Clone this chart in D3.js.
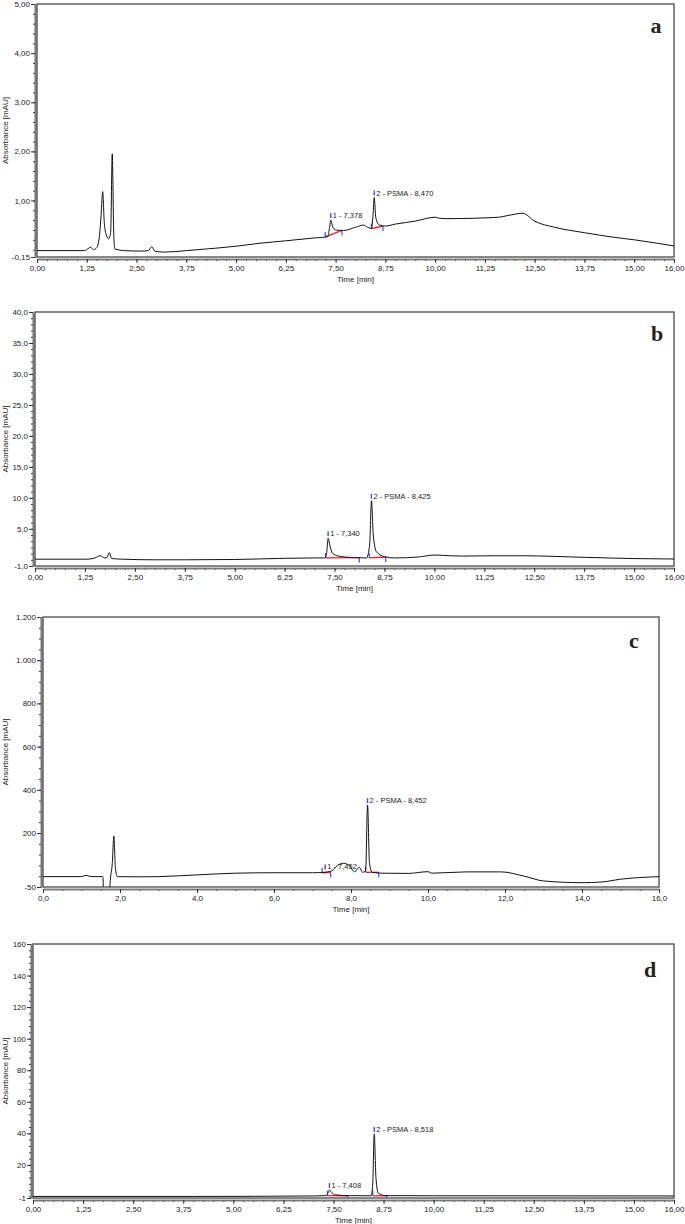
<!DOCTYPE html>
<html>
<head>
<meta charset="utf-8">
<script src="https://cdn.jsdelivr.net/npm/d3@7"></script>
<style>
  body { margin: 0; background: #fff; }
  svg { display: block; }
  text { font-family: "Liberation Sans", Arial, sans-serif; fill: #222; }
</style>
</head>
<body>
<div id="chart"></div>
<script>
// Chromatogram traces (time in min, absorbance in mAU)
let timeA = [0, 1.2, 1.3, 1.35, 1.42, 1.5, 1.56, 1.61, 1.65, 1.69, 1.74, 1.8, 1.85, 1.89, 1.93, 1.96, 2.2, 2.6, 2.8, 2.88, 2.96, 3.2, 3.75, 4.5, 5.0, 5.6, 6.25, 7.0, 7.3, 7.34, 7.378, 7.42, 7.5, 7.7, 8.0, 8.2, 8.3, 8.4, 8.44, 8.47, 8.51, 8.6, 8.75, 9.0, 9.5, 10.0, 10.1, 10.3, 11.0, 11.6, 11.8, 12.2, 12.5, 13.0, 13.75, 14.5, 15.0, 16.0];
let absA = [-0.02, -0.02, 0.03, 0.05, 0.0, 0.04, 0.22, 0.7, 1.18, 0.55, 0.3, 0.22, 0.35, 1.95, 0.25, 0.01, -0.02, -0.03, -0.02, 0.06, -0.03, -0.05, -0.02, 0.03, 0.07, 0.13, 0.18, 0.24, 0.26, 0.4, 0.6, 0.48, 0.4, 0.39, 0.455, 0.5, 0.455, 0.43, 0.7, 1.06, 0.65, 0.5, 0.48, 0.52, 0.58, 0.66, 0.64, 0.63, 0.64, 0.66, 0.69, 0.74, 0.58, 0.455, 0.345, 0.25, 0.2, 0.075];

let timeB = [0, 1.3, 1.5, 1.63, 1.75, 1.8, 1.86, 1.92, 2.2, 3.0, 3.75, 5.0, 6.25, 7.0, 7.25, 7.3, 7.34, 7.38, 7.45, 7.6, 8.0, 8.3, 8.38, 8.425, 8.47, 8.55, 8.75, 9.0, 9.6, 10.0, 10.4, 10.7, 11.5, 12.2, 13.75, 15.0, 16.0];
let absB = [0.1, 0.1, 0.3, 0.66, 0.3, 0.35, 1.15, 0.2, 0.1, 0.0, 0.0, 0.05, 0.24, 0.3, 0.3, 1.0, 3.47, 2.4, 1.05, 0.6, 0.35, 0.3, 2.5, 9.53, 4.0, 1.3, 0.5, 0.3, 0.45, 0.77, 0.65, 0.6, 0.65, 0.65, 0.4, 0.2, 0.13];

let timeC = [0, 1.0, 1.12, 1.25, 1.55, 1.56, 1.575, 1.72, 1.74, 1.8, 1.84, 1.88, 1.93, 2.5, 3.0, 4.0, 5.0, 6.0, 7.0, 7.3, 7.5, 7.65, 7.8, 7.95, 8.1, 8.15, 8.22, 8.3, 8.38, 8.43, 8.48, 8.55, 8.8, 9.5, 10.0, 10.1, 11.0, 11.9, 12.5, 13.0, 14.0, 14.5, 15.0, 16.0];
let absC = [-2, -2, 4, -2, -2, -10, -120, -120, -40, 60, 186, 40, -2, -3, -2, 6, 14, 16, 16, 18, 25, 50, 60, 50, 20, 30, 41, 18, 25, 329, 60, 18, 14, 13, 21, 14, 20, 20, 0, -22, -30, -27, -14, -2];

let timeD = [0, 4.0, 7.0, 7.33, 7.37, 7.4, 7.45, 7.55, 7.9, 8.44, 8.48, 8.518, 8.56, 8.62, 8.8, 10.0, 16.0];
let absD = [0, 0, 0.3, 0.5, 2.5, 4.1, 2.5, 1.0, 0.5, 0.4, 8, 39.6, 12, 2, 0.5, 0.4, 0.3];

// Integrated peaks: label, apex, integration start / end
let peaksA = [
  { label: "1 - 7,378", apex: [7.378, 0.6], start: [7.24, 0.26], end: [7.66, 0.39] },
  { label: "2 - PSMA - 8,470", apex: [8.47, 1.06], start: [8.4, 0.43], end: [8.69, 0.48] }
];
let peaksB = [
  { label: "1 - 7,340", apex: [7.34, 3.47], start: [7.28, 0.3], end: [8.12, 0.35] },
  { label: "2 - PSMA - 8,425", apex: [8.425, 9.53], start: [8.37, 0.3], end: [8.78, 0.45] }
];
let peaksC = [
  { label: "1 - 7,452", apex: [7.33, 22], start: [7.25, 16], end: [7.47, 18] },
  { label: "2 - PSMA - 8,452", apex: [8.43, 329], start: [8.38, 18], end: [8.72, 18] }
];
let peaksD = [
  { label: "1 - 7,408", apex: [7.4, 4.1], start: [7.35, 0.5], end: [7.86, 0.4] },
  { label: "2 - PSMA - 8,518", apex: [8.518, 39.6], start: [8.48, 0.4], end: [8.83, 0.4] }
];

// Tick values
let xTicksQ = [0, 1.25, 2.5, 3.75, 5, 6.25, 7.5, 8.75, 10, 11.25, 12.5, 13.75, 15, 16];
let xTicksC = [0, 2, 4, 6, 8, 10, 12, 14, 16];
let yTicksA = [-0.15, 1, 2, 3, 4, 5];
let yTicksB = [-1, 5, 10, 15, 20, 25, 30, 35, 40];
let yTicksC = [-50, 200, 400, 600, 800, 1000, 1200];
let yTicksD = [-1, 20, 40, 60, 80, 100, 120, 140, 160];

// German style numbers: comma decimal, dot thousands
let loc = d3.formatLocale({ decimal: ",", thousands: ".", grouping: [3], currency: ["", ""], minus: "-" });

let panels = [
  { letter: "a", time: timeA, abs: absA, peaks: peaksA, yDomain: [-0.15, 5], yTicks: yTicksA, yMinor: 0.2,
    xTicks: xTicksQ, xMinor: 0.25, xFmt: loc.format(".2f"), yFmt: loc.format(".2f"),
    box: { l: 37, r: 674, t: 4, b: 257 }, letterPos: [656, 33] },
  { letter: "b", time: timeB, abs: absB, peaks: peaksB, yDomain: [-1, 40], yTicks: yTicksB, yMinor: 1,
    xTicks: xTicksQ, xMinor: 0.25, xFmt: loc.format(".2f"), yFmt: loc.format(".1f"),
    box: { l: 35, r: 674, t: 312, b: 566 }, letterPos: [657, 341] },
  { letter: "c", time: timeC, abs: absC, peaks: peaksC, yDomain: [-50, 1200], yTicks: yTicksC, yMinor: 50,
    xTicks: xTicksC, xMinor: 0.5, xFmt: loc.format(".1f"), yFmt: loc.format(",d"),
    box: { l: 43, r: 659, t: 617, b: 887 }, letterPos: [634, 648] },
  { letter: "d", time: timeD, abs: absD, peaks: peaksD, yDomain: [-1, 160], yTicks: yTicksD, yMinor: 4,
    xTicks: xTicksQ, xMinor: 0.25, xFmt: loc.format(".2f"), yFmt: loc.format("d"),
    box: { l: 33, r: 674, t: 944, b: 1198 }, letterPos: [650, 977] }
];

let svg = d3.select("#chart").append("svg")
  .attr("width", 685)
  .attr("height", 1224);

let styleAxis = (g) => {
  g.select(".domain").attr("stroke", "#777").attr("stroke-width", 1.6);
  g.selectAll(".tick line").attr("stroke", "#333");
  g.selectAll(".tick text").attr("font-size", 8).attr("fill", "#222")
    .attr("font-family", "'Liberation Sans', Arial, sans-serif");
};

let drawPanel = (p, i) => {
  let b = p.box;
  let x = d3.scaleLinear().domain([0, 16]).range([b.l, b.r]);
  let y = d3.scaleLinear().domain(p.yDomain).range([b.b, b.t]);
  let g = svg.append("g");

  g.append("clipPath").attr("id", "clip" + i)
    .append("rect")
    .attr("x", b.l).attr("y", b.t)
    .attr("width", b.r - b.l).attr("height", b.b - b.t);

  // minor ticks
  let xMinor = d3.range(0, 16.0001, p.xMinor);
  let yMinor = d3.range(Math.max(0, p.yDomain[0]), p.yDomain[1] + 1e-6, p.yMinor);

  g.append("g")
    .attr("transform", `translate(0,${b.b + 2})`)
    .call(d3.axisBottom(x).tickValues(xMinor).tickSize(2).tickSizeOuter(0).tickFormat(""))
    .call(styleAxis);
  g.append("g")
    .attr("transform", `translate(0,${b.b + 2})`)
    .call(d3.axisBottom(x).tickValues(p.xTicks).tickSize(4).tickSizeOuter(0).tickPadding(2).tickFormat(p.xFmt))
    .call(styleAxis);

  g.append("g")
    .attr("transform", `translate(${b.l - 2},0)`)
    .call(d3.axisLeft(y).tickValues(yMinor).tickSize(2).tickSizeOuter(0).tickFormat(""))
    .call(styleAxis);
  g.append("g")
    .attr("transform", `translate(${b.l - 2},0)`)
    .call(d3.axisLeft(y).tickValues(p.yTicks).tickSize(4).tickSizeOuter(0).tickPadding(1).tickFormat(p.yFmt))
    .call(styleAxis);

  // frame
  g.append("rect")
    .attr("x", b.l).attr("y", b.t)
    .attr("width", b.r - b.l).attr("height", b.b - b.t)
    .attr("fill", "none")
    .attr("stroke", "#555")
    .attr("stroke-width", 1.4);

  // trace
  let pts = p.time.map((t, k) => [t, p.abs[k]]);
  let line = d3.line()
    .x((d) => x(d[0]))
    .y((d) => y(d[1]))
    .curve(d3.curveMonotoneX);

  // integration baselines and markers
  let pk = g.append("g").attr("clip-path", `url(#clip${i})`);
  p.peaks.forEach((d) => {
    pk.append("line")
      .attr("x1", x(d.start[0])).attr("y1", y(d.start[1]))
      .attr("x2", x(d.end[0])).attr("y2", y(d.end[1]))
      .attr("stroke", "#e8202a").attr("stroke-width", 1.3);
    pk.append("line")
      .attr("x1", x(d.start[0])).attr("x2", x(d.start[0]))
      .attr("y1", y(d.start[1]) - 5).attr("y2", y(d.start[1]))
      .attr("stroke", "#3a4cff").attr("stroke-width", 1.2);
    pk.append("line")
      .attr("x1", x(d.end[0])).attr("x2", x(d.end[0]))
      .attr("y1", y(d.end[1])).attr("y2", y(d.end[1]) + 5)
      .attr("stroke", "#3a4cff").attr("stroke-width", 1.2);
    pk.append("line")
      .attr("x1", x(d.apex[0])).attr("x2", x(d.apex[0]))
      .attr("y1", y(d.apex[1]) - 7).attr("y2", y(d.apex[1]) - 2)
      .attr("stroke", "#3a4cff").attr("stroke-width", 1.4);
    pk.append("text")
      .attr("x", x(d.apex[0]) + 2)
      .attr("y", y(d.apex[1]) - 2)
      .attr("font-size", 7.5)
      .text(d.label);
  });

  g.append("path")
    .datum(pts)
    .attr("clip-path", `url(#clip${i})`)
    .attr("fill", "none")
    .attr("stroke", "#111")
    .attr("stroke-width", 1)
    .attr("d", line);

  // titles
  g.append("text")
    .attr("x", (b.l + b.r) / 2)
    .attr("y", b.b + 25)
    .attr("text-anchor", "middle")
    .attr("font-size", 8)
    .text("Time [min]");
  g.append("text")
    .attr("transform", `translate(8,${(b.t + b.b) / 2}) rotate(-90)`)
    .attr("text-anchor", "middle")
    .attr("font-size", 8)
    .text("Absorbance [mAU]");

  g.append("text")
    .attr("x", p.letterPos[0])
    .attr("y", p.letterPos[1])
    .attr("text-anchor", "middle")
    .attr("font-family", "'Liberation Serif', 'Times New Roman', serif")
    .attr("font-weight", "bold")
    .attr("font-size", 22)
    .style("font-family", "'Liberation Serif', 'Times New Roman', serif")
    .text(p.letter);
};

panels.forEach(drawPanel);
</script>
</body>
</html>
